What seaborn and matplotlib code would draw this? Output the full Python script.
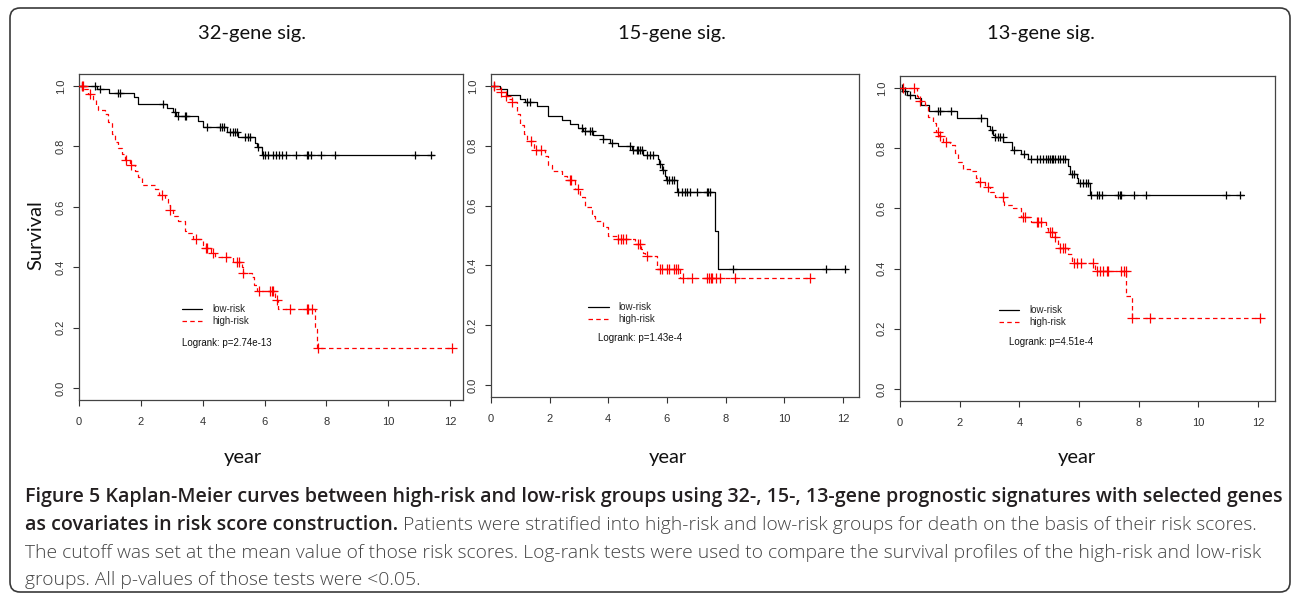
import numpy as np
import pandas as pd
import matplotlib
matplotlib.use("Agg")
import matplotlib.pyplot as plt
import seaborn as sns
from matplotlib.patches import FancyBboxPatch
from matplotlib.transforms import IdentityTransform

sns.set_theme(style="white")
plt.rcParams["font.family"] = ["Liberation Sans", "DejaVu Sans"]

# ---------------- data ----------------
titles = ["32-gene sig.", "15-gene sig.", "13-gene sig."]
pvals = ["Logrank: p=2.74e-13", "Logrank: p=1.43e-4", "Logrank: p=4.51e-4"]
group_labels = ["low-risk", "high-risk"]
x_ticks = [0, 2, 4, 6, 8, 10, 12]
y_ticks = [0.0, 0.2, 0.4, 0.6, 0.8, 1.0]

# panel 1 : 32-gene
p1_low_t = [0.57, 0.98, 1.78, 1.90, 2.84, 3.05, 3.15, 3.84, 4.02, 4.78, 5.15, 5.69, 5.77, 5.91]
p1_low_s = [0.989, 0.976, 0.963, 0.939, 0.927, 0.915, 0.902, 0.884, 0.864, 0.848, 0.831, 0.812, 0.797, 0.773]
p1_low_c = [0.09, 0.52, 0.68, 1.27, 1.33, 2.73, 3.10, 3.20, 3.43, 3.46, 4.13, 4.56, 4.62, 4.69, 4.90, 4.98,
            5.05, 5.12, 5.38, 5.45, 5.52, 5.80, 5.96, 6.00, 6.10, 6.28, 6.38, 6.48, 6.58, 6.70, 7.02, 7.36,
            7.42, 7.50, 7.82, 8.28, 10.87, 11.37]
p1_low_end = 11.48
p1_high_t = [0.14, 0.30, 0.46, 0.55, 0.63, 0.84, 0.95, 1.06, 1.16, 1.27, 1.38, 1.49, 1.65, 1.81, 1.92, 2.03,
             2.46, 2.59, 2.78, 2.89, 2.94, 3.05, 3.21, 3.43, 3.46, 3.70, 4.02, 4.10, 4.26, 4.40, 4.99, 5.26,
             5.29, 5.58, 5.67, 5.77, 6.34, 6.37, 6.45, 7.63, 7.71]
p1_high_s = [0.989, 0.975, 0.955, 0.935, 0.92, 0.908, 0.88, 0.84, 0.815, 0.795, 0.775, 0.755, 0.74, 0.72, 0.70,
             0.672, 0.66, 0.64, 0.625, 0.605, 0.59, 0.57, 0.552, 0.52, 0.512, 0.492, 0.475, 0.462, 0.448, 0.435,
             0.416, 0.40, 0.38, 0.368, 0.34, 0.322, 0.30, 0.292, 0.261, 0.195, 0.131]
p1_high_c = [0.09, 0.12, 0.35, 1.51, 1.68, 2.67, 2.95, 3.80, 4.11, 4.14, 4.32, 4.74, 5.10, 5.18, 5.32, 5.82,
             6.18, 6.23, 6.29, 6.39, 6.82, 7.36, 7.42, 7.53, 7.74, 12.05]
p1_high_end = 12.05

# panel 2 : 15-gene
p2_low_t = [0.30, 0.55, 0.98, 1.17, 1.57, 1.94, 2.42, 2.70, 2.98, 3.15, 3.47, 3.81, 4.06, 4.34, 4.80, 5.19,
            5.70, 5.74, 5.82, 5.93, 5.97, 6.35, 7.63, 7.75]
p2_low_s = [0.99, 0.969, 0.955, 0.946, 0.933, 0.898, 0.885, 0.873, 0.86, 0.848, 0.836, 0.823, 0.81, 0.80,
            0.787, 0.769, 0.755, 0.74, 0.72, 0.70, 0.684, 0.647, 0.516, 0.388]
p2_low_c = [0.09, 1.22, 1.34, 3.10, 3.21, 3.38, 3.44, 3.83, 4.12, 4.74, 4.85, 4.97, 5.02, 5.08, 5.14, 5.31,
            5.42, 5.51, 5.76, 5.85, 5.99, 6.08, 6.16, 6.24, 6.39, 6.50, 6.61, 6.67, 6.78, 7.01, 7.35, 7.41,
            7.46, 8.26, 11.41, 12.06]
p2_low_end = 12.14
p2_high_t = [0.15, 0.32, 0.49, 0.60, 0.70, 0.88, 0.99, 1.11, 1.22, 1.45, 1.85, 1.96, 2.08, 2.42, 2.59, 2.87,
             3.04, 3.21, 3.44, 3.55, 3.83, 4.00, 4.29, 4.91, 5.10, 5.19, 5.25, 5.65, 6.46]
p2_high_s = [0.99, 0.98, 0.967, 0.955, 0.945, 0.905, 0.87, 0.84, 0.815, 0.785, 0.765, 0.735, 0.715, 0.70,
             0.684, 0.655, 0.63, 0.594, 0.565, 0.55, 0.53, 0.50, 0.487, 0.473, 0.455, 0.44, 0.43, 0.389, 0.357]
p2_high_c = [0.09, 0.34, 0.52, 0.72, 1.36, 1.54, 1.70, 2.68, 2.72, 2.95, 4.32, 4.43, 4.51, 4.60, 5.02, 5.08,
             5.31, 5.76, 5.82, 5.99, 6.08, 6.24, 6.30, 6.39, 6.56, 6.84, 7.37, 7.44, 7.49, 7.55, 7.67, 7.80,
             8.31, 10.89]
p2_high_end = 10.89

# panel 3 : 13-gene
p3_low_t = [0.11, 0.25, 0.50, 0.70, 0.98, 1.92, 2.90, 3.01, 3.12, 3.18, 3.46, 3.74, 4.07, 4.30, 5.64, 5.69,
            5.92, 5.97, 6.36]
p3_low_s = [0.99, 0.978, 0.967, 0.945, 0.925, 0.90, 0.875, 0.86, 0.845, 0.836, 0.82, 0.795, 0.78, 0.765,
            0.74, 0.715, 0.70, 0.685, 0.643]
p3_low_c = [0.06, 0.17, 0.33, 1.28, 1.34, 1.71, 2.71, 3.07, 3.20, 3.27, 3.35, 3.44, 3.82, 4.15, 4.38, 4.58,
            4.69, 4.78, 4.91, 4.97, 5.02, 5.08, 5.13, 5.19, 5.30, 5.36, 5.45, 5.53, 5.75, 5.83, 6.03, 6.14,
            6.23, 6.31, 6.39, 6.59, 6.68, 6.78, 7.31, 7.37, 7.42, 7.84, 8.24, 10.92, 11.39]
p3_low_end = 11.52
p3_high_t = [0.56, 0.61, 0.84, 0.95, 1.12, 1.21, 1.32, 1.45, 1.67, 1.84, 1.95, 2.10, 2.34, 2.55, 2.62, 2.85,
             3.01, 3.18, 3.48, 3.80, 4.07, 4.38, 4.91, 4.97, 5.16, 5.30, 5.64, 5.75, 6.53, 7.59, 7.76]
p3_high_s = [0.975, 0.957, 0.945, 0.905, 0.885, 0.855, 0.84, 0.82, 0.81, 0.785, 0.755, 0.73, 0.725, 0.70,
             0.688, 0.67, 0.655, 0.638, 0.61, 0.60, 0.573, 0.556, 0.535, 0.52, 0.505, 0.47, 0.45, 0.42,
             0.392, 0.31, 0.236]
p3_high_c = [0.09, 0.48, 0.67, 1.26, 1.34, 1.54, 2.68, 2.94, 3.46, 4.13, 4.19, 4.58, 4.63, 4.74, 5.02, 5.11,
             5.20, 5.36, 5.45, 5.53, 5.83, 5.94, 6.08, 6.47, 6.59, 6.70, 6.81, 6.94, 6.98, 7.42, 7.50, 7.57,
             7.78, 8.37, 12.06]
p3_high_end = 12.06

panels = [
    ((p1_low_t, p1_low_s, p1_low_c, p1_low_end), (p1_high_t, p1_high_s, p1_high_c, p1_high_end)),
    ((p2_low_t, p2_low_s, p2_low_c, p2_low_end), (p2_high_t, p2_high_s, p2_high_c, p2_high_end)),
    ((p3_low_t, p3_low_s, p3_low_c, p3_low_end), (p3_high_t, p3_high_s, p3_high_c, p3_high_end)),
]

caption_bold1 = "Figure 5 Kaplan-Meier curves between high-risk and low-risk groups using 32-, 15-, 13-gene prognostic signatures with selected genes"
caption_bold2 = "as covariates in risk score construction."
caption_reg2 = " Patients were stratified into high-risk and low-risk groups for death on the basis of their risk scores."
caption_reg3 = "The cutoff was set at the mean value of those risk scores. Log-rank tests were used to compare the survival profiles of the high-risk and low-risk"
caption_reg4 = "groups. All p-values of those tests were <0.05."

# ---------------- layout ----------------
W, H = 1292, 596
fig = plt.figure(figsize=(W / 100, H / 100), dpi=100)
fig.patch.set_facecolor("white")

boxes = [(79, 74, 463, 400), (491, 74, 859, 397), (900, 76, 1275, 401)]
xmaxes = [12.42, 12.55, 12.57]
title_x = [252, 672, 1041]
year_x = [243, 668, 1077]
leg_pos = [(0.268, 0.294), (0.264, 0.294), (0.264, 0.295)]
p_pos = [(0.268, 0.175), (0.291, 0.183), (0.291, 0.182)]

colors = ["black", "#ff0000"]
dash_high = (0, (3.6, 2.6))
msize = [30, 42]


def km_frame(times, surv, end):
    t = [0.0] + list(times) + [end]
    s = [1.0] + list(surv) + [surv[-1]]
    return pd.DataFrame({"time": t, "surv": s})


def censor_frame(times, surv, cens):
    tt = np.array([0.0] + list(times))
    ss = np.array([1.0] + list(surv))
    idx = np.searchsorted(tt, np.array(cens), side="right") - 1
    return pd.DataFrame({"time": cens, "surv": ss[idx]})


for i, (box, pan) in enumerate(zip(boxes, panels)):
    l, t, r, b = box
    ax = fig.add_axes([l / W, 1 - b / H, (r - l) / W, (b - t) / H])
    handles = []
    for g, (tm, sv, cn, en) in enumerate(pan):
        df = km_frame(tm, sv, en)
        sns.lineplot(data=df, x="time", y="surv", ax=ax, estimator=None, sort=False,
                     drawstyle="steps-post", color=colors[g], linewidth=0.9)
        line = ax.lines[-1]
        if g == 1:
            line.set_linestyle(dash_high)
        handles.append(line)
    for g, (tm, sv, cn, en) in enumerate(pan):
        cf = censor_frame(tm, sv, cn)
        sns.scatterplot(data=cf, x="time", y="surv", ax=ax, marker="+", s=msize[g],
                        color=colors[g], linewidth=0.9, zorder=3)
    ax.set_xlim(0, xmaxes[i])
    ax.set_ylim(-0.04, 1.04)
    ax.set_xticks(x_ticks)
    ax.set_xticklabels([str(v) for v in x_ticks])
    ax.set_yticks(y_ticks)
    ax.set_yticklabels([f"{v:.1f}" for v in y_ticks])
    ax.set_xlabel("")
    ax.set_ylabel("")
    ax.tick_params(axis="both", direction="out", length=4.5, width=0.8, colors="#333333",
                   labelsize=8, bottom=True, left=True)
    ax.tick_params(axis="x", pad=8.0)
    ax.tick_params(axis="y", pad=5.0)
    for lab in ax.get_yticklabels():
        lab.set_rotation(90)
        lab.set_va("center")
    for sp in ax.spines.values():
        sp.set_visible(True)
        sp.set_color("#444444")
        sp.set_linewidth(0.9)
    ax.set_facecolor("white")
    ax.grid(False)
    ax.legend(handles=handles, labels=group_labels, loc="upper left",
              bbox_to_anchor=leg_pos[i], frameon=False, fontsize=7,
              handlelength=2.1, handletextpad=1.0, labelspacing=0.2,
              borderpad=0, borderaxespad=0)
    ax.text(p_pos[i][0], p_pos[i][1], pvals[i], transform=ax.transAxes,
            fontsize=7, ha="left", va="center", color="#111111")
    fig.text(title_x[i] / W, 1 - 33 / H, titles[i], ha="center", va="center",
             family=["Lato", "DejaVu Sans"], fontsize=14.5, color="#111111")
    fig.text(year_x[i] / W, 1 - 458 / H, "year", ha="center", va="center",
             family=["Lato", "DejaVu Sans"], fontsize=14.5, color="#111111")

fig.text(36 / W, 1 - 235 / H, "Survival", ha="center", va="center", rotation=90,
         family=["Lato", "DejaVu Sans"], fontsize=14.5, color="#111111")

# frame
frame = FancyBboxPatch((10, H - 592), 1280, 584, boxstyle="round,pad=0,rounding_size=10",
                       transform=IdentityTransform(), facecolor="none",
                       edgecolor="#3a3a3a", linewidth=1.2)
fig.patches.append(frame)

# caption
fam_cap = ["Open Sans", "DejaVu Sans"]
fig.canvas.draw()
rend = fig.canvas.get_renderer()

probe = fig.text(0, 0, caption_bold1, family=fam_cap, weight="semibold", fontsize=10)
wb = probe.get_window_extent(rend).width
probe.remove()
bold_size = 10 * (1277 - 25) / wb
probe = fig.text(0, 0, caption_reg3, family=fam_cap, weight="light", fontsize=10)
wr = probe.get_window_extent(rend).width
probe.remove()
reg_size = 10 * (1260 - 25) / wr

bold_col = "#231f20"
reg_col = "#444444"
x0 = 25 / W
fig.text(x0, 1 - 502 / H, caption_bold1, family=fam_cap, weight="semibold", fontsize=bold_size,
         color=bold_col, va="baseline")
tb = fig.text(x0, 1 - 530 / H, caption_bold2, family=fam_cap, weight="semibold", fontsize=bold_size,
              color=bold_col, va="baseline")
fig.canvas.draw()
xe = tb.get_window_extent(rend).x1
fig.text(xe / W, 1 - 530 / H, caption_reg2, family=fam_cap, weight="light", fontsize=reg_size,
         color=reg_col, va="baseline")
fig.text(x0, 1 - 557.5 / H, caption_reg3, family=fam_cap, weight="light", fontsize=reg_size,
         color=reg_col, va="baseline")
fig.text(x0, 1 - 585 / H, caption_reg4, family=fam_cap, weight="light", fontsize=reg_size,
         color=reg_col, va="baseline")

fig.savefig("out.png", dpi=100, facecolor="white")
